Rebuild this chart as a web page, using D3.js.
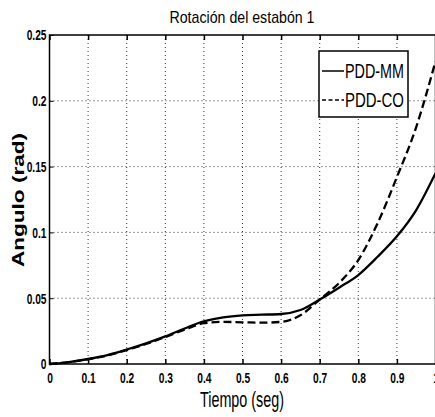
<!DOCTYPE html>
<html><head><meta charset="utf-8">
<script src="https://cdn.jsdelivr.net/npm/d3@7"></script>
<style>
body{margin:0;background:#fff;}
text{font-family:"Liberation Sans",Arial,sans-serif;fill:#000;}
</style></head>
<body><svg id="c" width="435" height="417"></svg>
<script>
const tiempo = [0,0.05,0.1,0.15,0.2,0.25,0.3,0.35,0.4,0.45,0.5,0.55,0.6,0.65,0.7,0.75,0.8,0.85,0.9,0.95,1.0];
const pddMM = [0,0.0015,0.0038,0.0068,0.011,0.0157,0.021,0.027,0.0325,0.0355,0.037,0.0375,0.038,0.041,0.049,0.058,0.0676,0.0815,0.097,0.117,0.145];
const pddCO = [0,0.0015,0.0036,0.0065,0.0106,0.0152,0.0205,0.026,0.031,0.032,0.0317,0.0314,0.032,0.037,0.049,0.0615,0.079,0.107,0.142,0.180,0.23];
const xTicks = [0,0.1,0.2,0.3,0.4,0.5,0.6,0.7,0.8,0.9,1];
const xTickLabels = ["0","0.1","0.2","0.3","0.4","0.5","0.6","0.7","0.8","0.9","1"];
const yTicks = [0,0.05,0.1,0.15,0.2,0.25];
const yTickLabels = ["0","0.05","0.1","0.15","0.2","0.25"];
const seriesNames = ["PDD-MM","PDD-CO"];

const svg = d3.select("#c");
const L=49.5, R=435.5, T=35, B=364;
const x = d3.scaleLinear().domain([0,1]).range([L,R]);
const y = d3.scaleLinear().domain([0,0.25]).range([B,T]);

function squeeze(sel, f){
  sel.each(function(){
    const w = this.getComputedTextLength();
    d3.select(this).attr("textLength", w*f).attr("lengthAdjust","spacingAndGlyphs");
  });
}

// grid
const g = svg.append("g");
g.selectAll(".gx").data(xTicks.slice(1,-1)).enter().append("line")
  .attr("x1",d=>x(d)).attr("x2",d=>x(d)).attr("y1",T).attr("y2",B)
  .attr("stroke","#000").attr("stroke-width",0.8).attr("stroke-dasharray","1,3");
g.selectAll(".gy").data(yTicks.slice(1,-1)).enter().append("line")
  .attr("y1",d=>y(d)).attr("y2",d=>y(d)).attr("x1",L).attr("x2",R)
  .attr("stroke","#000").attr("stroke-width",0.8).attr("stroke-dasharray","1,3");

// frame
svg.append("rect").attr("x",L).attr("y",T).attr("width",R-L).attr("height",B-T)
  .attr("fill","none").attr("stroke","#000").attr("stroke-width",1.5);

// axes
const xAxis = d3.axisBottom(x).tickValues(xTicks).tickFormat((d,i)=>xTickLabels[i]).tickSizeInner(-5).tickSizeOuter(0).tickPadding(8);
const ax = svg.append("g").attr("transform",`translate(0,${B})`).call(xAxis);
ax.select(".domain").remove();
ax.selectAll("line").attr("stroke-width",1.5);
ax.selectAll("text").attr("font-size",15).attr("font-weight","bold").attr("dy","0").attr("y",19);
squeeze(ax.selectAll("text"),0.68);
const xTop = d3.axisTop(x).tickValues(xTicks).tickFormat("").tickSizeInner(-5).tickSizeOuter(0);
const axt = svg.append("g").attr("transform",`translate(0,${T})`).call(xTop);
axt.select(".domain").remove();
axt.selectAll("line").attr("stroke-width",1.5);

const yAxis = d3.axisLeft(y).tickValues(yTicks).tickFormat((d,i)=>yTickLabels[i]).tickSizeInner(-4).tickSizeOuter(0).tickPadding(3);
const ay = svg.append("g").attr("transform",`translate(${L},0)`).call(yAxis);
ay.select(".domain").remove();
ay.selectAll("text").attr("font-size",15).attr("font-weight","bold");
squeeze(ay.selectAll("text"),0.68);

// lines
const line = d3.line().x((d,i)=>x(tiempo[i])).y(d=>y(d)).curve(d3.curveMonotoneX);
svg.append("path").datum(pddMM).attr("d",line).attr("fill","none").attr("stroke","#000").attr("stroke-width",2.3);
svg.append("path").datum(pddCO).attr("d",line).attr("fill","none").attr("stroke","#000").attr("stroke-width",2.3).attr("stroke-dasharray","8,4");

// titles
svg.append("text").attr("x",242).attr("y",23).attr("text-anchor","middle").attr("font-size",17)
  .attr("textLength",145).attr("lengthAdjust","spacingAndGlyphs").text("Rotación del estabón 1");
svg.append("text").attr("x",242).attr("y",407).attr("text-anchor","middle").attr("font-size",22)
  .attr("textLength",84).attr("lengthAdjust","spacingAndGlyphs").text("Tiempo (seg)");
svg.append("text").attr("transform","translate(24,200) rotate(-90)").attr("text-anchor","middle")
  .attr("font-size",17).attr("font-weight","bold")
  .attr("textLength",134).attr("lengthAdjust","spacingAndGlyphs").text("Angulo (rad)");

// legend
const lg = svg.append("g");
lg.append("rect").attr("x",319).attr("y",51).attr("width",89).attr("height",66).attr("fill","#fff").attr("stroke","#000").attr("stroke-width",1.5);
[0,1].forEach(i=>{
  const yy = 71 + i*29;
  lg.append("line").attr("x1",322).attr("x2",344).attr("y1",yy).attr("y2",yy).attr("stroke","#000").attr("stroke-width",1.5)
    .attr("stroke-dasharray", i==1 ? "4,2.5" : null);
  lg.append("text").attr("x",345).attr("y",yy+7).attr("font-size",20)
    .attr("textLength",59).attr("lengthAdjust","spacingAndGlyphs").text(seriesNames[i]);
});
</script></body></html>
